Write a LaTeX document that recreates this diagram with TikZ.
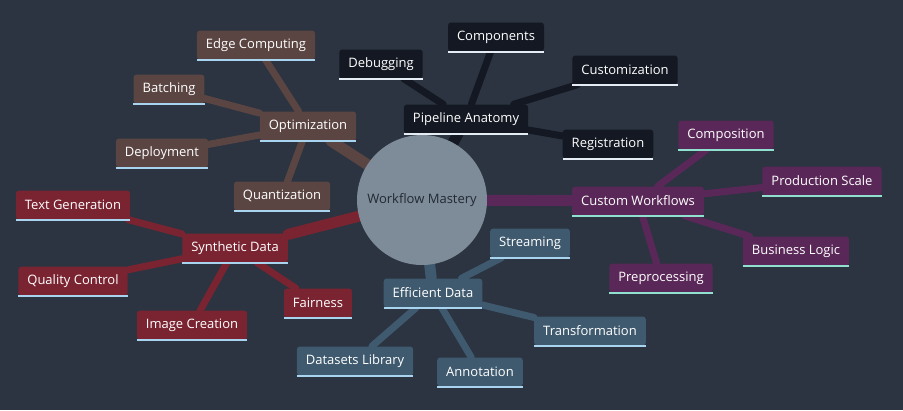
\documentclass[tikz,border=0pt]{standalone}
\usepackage{fontspec}
\setmainfont{Open Sans}
\usetikzlibrary{backgrounds}
\definecolor{bgc}{HTML}{2B3440}
\definecolor{hubc}{HTML}{7E8C99}
\definecolor{pipec}{HTML}{141822}
\definecolor{optc}{HTML}{5A4542}
\definecolor{custc}{HTML}{5A2858}
\definecolor{sync}{HTML}{7A2432}
\definecolor{effc}{HTML}{3F5A6E}
\definecolor{ulblue}{HTML}{A8D4F0}
\definecolor{ulmint}{HTML}{8FE0CF}
\definecolor{ulwhite}{HTML}{E6ECF4}
\tikzset{
  topic/.style={rounded corners=3pt, text=white, inner xsep=9pt,
    minimum height=29pt, font=\fontsize{13}{15}\selectfont},
  hub/.style={circle, fill=hubc, minimum size=130pt, text=bgc!80!black,
    font=\fontsize{13}{15}\selectfont},
  limb/.style={line width=#1, line cap=round},
}
\newcommand{\under}[2]{\draw[#2, line width=2.2pt] (#1.south west) -- (#1.south east);}
\begin{document}
\begin{tikzpicture}[x=1pt,y=-1pt]
\useasboundingbox (0,0) rectangle (903,410);

\node[hub] (hub) at (422,200) {Workflow Mastery};

% Pipeline Anatomy
\node[topic, fill=pipec] (pipe) at (466,119) {Pipeline Anatomy};
\node[topic, fill=pipec] (debug) at (381,64) {Debugging};
\node[topic, fill=pipec] (comp) at (496,37) {Components};
\node[topic, fill=pipec] (custom) at (625,70) {Customization};
\node[topic, fill=pipec] (reg) at (608,144) {Registration};

% Optimization
\node[topic, fill=optc] (opt) at (308,126) {Optimization};
\node[topic, fill=optc] (edge) at (256,45) {Edge Computing};
\node[topic, fill=optc] (batch) at (169,89) {Batching};
\node[topic, fill=optc] (deploy) at (162,153) {Deployment};
\node[topic, fill=optc] (quant) at (282,196) {Quantization};

% Custom Workflows
\node[topic, fill=custc] (cw) at (638,201) {Custom Workflows};
\node[topic, fill=custc] (compo) at (726,135) {Composition};
\node[topic, fill=custc] (prod) at (822,181) {Production Scale};
\node[topic, fill=custc] (biz) at (796,251) {Business Logic};
\node[topic, fill=custc] (prep) at (661,278) {Preprocessing};

% Synthetic Data
\node[topic, fill=sync] (syn) at (235,248) {Synthetic Data};
\node[topic, fill=sync] (textgen) at (73,205) {Text Generation};
\node[topic, fill=sync] (qc) at (73,281) {Quality Control};
\node[topic, fill=sync] (img) at (192,325) {Image Creation};
\node[topic, fill=sync] (fair) at (318,303) {Fairness};

% Efficient Data
\node[topic, fill=effc] (eff) at (433,293) {Efficient Data};
\node[topic, fill=effc] (stream) at (530,243) {Streaming};
\node[topic, fill=effc] (trans) at (590,331) {Transformation};
\node[topic, fill=effc] (annot) at (480,372) {Annotation};
\node[topic, fill=effc] (dsl) at (355,361) {Datasets Library};

\begin{scope}[on background layer]
  \fill[bgc] (0,0) rectangle (903,410);
  \foreach \m/\c in {pipe/pipec, opt/optc, cw/custc, syn/sync, eff/effc}
    {\draw[limb=11pt, \c] (hub) -- (\m);}
  \foreach \a/\b/\c in {pipe/debug/pipec, pipe/comp/pipec, pipe/custom/pipec, pipe/reg/pipec,
      opt/edge/optc, opt/batch/optc, opt/deploy/optc, opt/quant/optc,
      cw/compo/custc, cw/prod/custc, cw/biz/custc, cw/prep/custc,
      syn/textgen/sync, syn/qc/sync, syn/img/sync, syn/fair/sync,
      eff/stream/effc, eff/trans/effc, eff/annot/effc, eff/dsl/effc}
    {\draw[limb=7pt, \c] (\a) -- (\b);}
\end{scope}

\foreach \n in {pipe, debug, comp, custom, reg} {\under{\n}{ulwhite}}
\foreach \n in {cw, compo, prod, biz, prep} {\under{\n}{ulmint}}
\foreach \n in {opt, edge, batch, deploy, quant, syn, textgen, qc, img, fair,
    eff, stream, trans, annot, dsl} {\under{\n}{ulblue}}
\end{tikzpicture}
\end{document}
